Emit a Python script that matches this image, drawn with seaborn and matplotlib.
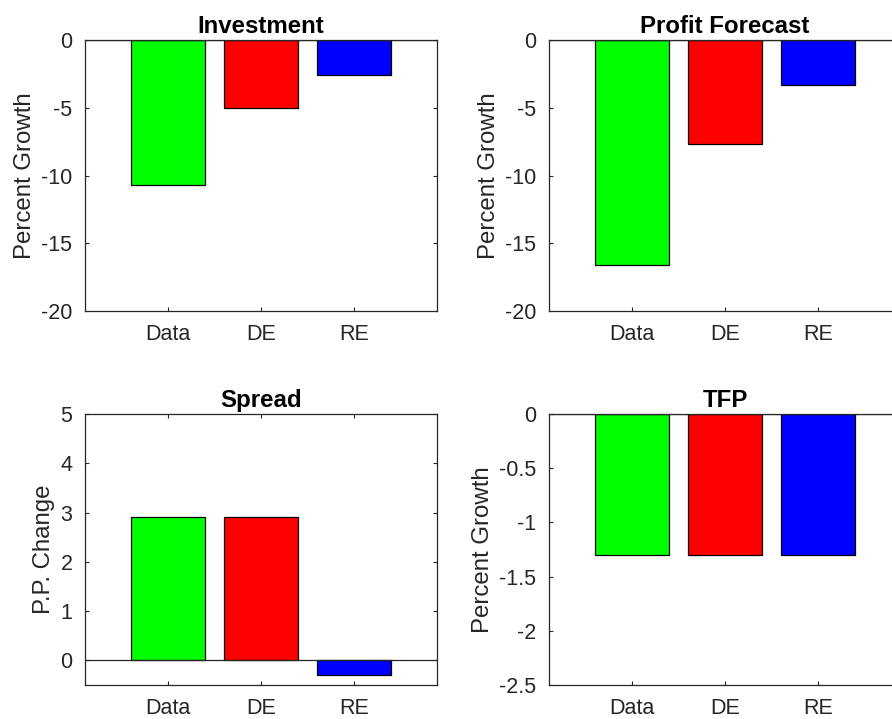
import matplotlib
matplotlib.use("Agg")
import matplotlib.pyplot as plt
import seaborn as sns
import pandas as pd

sns.set_theme(style="white")
plt.rcParams["font.family"] = ["Liberation Sans", "DejaVu Sans"]

# Model comparison data
categories = ["Data", "DE", "RE"]
bar_colors = ["#00ff00", "#ff0000", "#0000ff"]

investment = [-10.7, -5.0, -2.6]
profit_forecast = [-16.6, -7.7, -3.3]
spread = [2.9, 2.9, -0.3]
tfp = [-1.3, -1.3, -1.3]

panels = [
    ("Investment", investment, "Percent Growth", (-20, 0), [-20, -15, -10, -5, 0], ["-20", "-15", "-10", "-5", "0"]),
    ("Profit Forecast", profit_forecast, "Percent Growth", (-20, 0), [-20, -15, -10, -5, 0], ["-20", "-15", "-10", "-5", "0"]),
    ("Spread", spread, "P.P. Change", (-0.5, 5), [0, 1, 2, 3, 4, 5], ["0", "1", "2", "3", "4", "5"]),
    ("TFP", tfp, "Percent Growth", (-2.5, 0), [-2.5, -2, -1.5, -1, -0.5, 0], ["-2.5", "-2", "-1.5", "-1", "-0.5", "0"]),
]

W, H = 892, 719
fig = plt.figure(figsize=(W / 100, H / 100), dpi=100)

# axes rectangles (left, top, right, bottom) in pixels
rects = [
    (85, 40, 437, 311),
    (549, 40, 901, 311),
    (85, 414, 437, 685),
    (549, 414, 901, 685),
]

ink = (0.15, 0.15, 0.15)

for (title, vals, ylabel, ylim, yticks, yticklabels), (l, t, r, b) in zip(panels, rects):
    ax = fig.add_axes([l / W, 1 - b / H, (r - l) / W, (b - t) / H])
    df = pd.DataFrame({"cat": categories, "val": vals})
    sns.barplot(data=df, x="cat", y="val", hue="cat", palette=bar_colors,
                order=categories, hue_order=categories, legend=False,
                width=0.8, edgecolor="black", linewidth=0.9, saturation=1,
                ax=ax, zorder=2)
    ax.axhline(0, color=ink, lw=0.9, zorder=3)
    ax.set_xlim(-0.892, 2.892)
    ax.set_ylim(*ylim)
    ax.set_yticks(yticks)
    ax.set_yticklabels(yticklabels)
    ax.set_xlabel("")
    ax.set_ylabel(ylabel, fontsize=17.3, color=ink, labelpad=4)
    ax.set_title(title, fontsize=17.3, fontweight="bold", color="black", pad=5)
    for s in ax.spines.values():
        s.set_visible(True)
        s.set_color(ink)
        s.set_linewidth(0.9)
    ax.tick_params(axis="both", which="both", direction="in", length=3,
                   width=0.8, color=ink, labelcolor=ink, labelsize=15.5,
                   top=True, right=True, bottom=True, left=True)
    ax.tick_params(axis="y", pad=9)
    ax.tick_params(axis="x", pad=9)
    ax.grid(False)

fig.savefig("out.png", dpi=100)
